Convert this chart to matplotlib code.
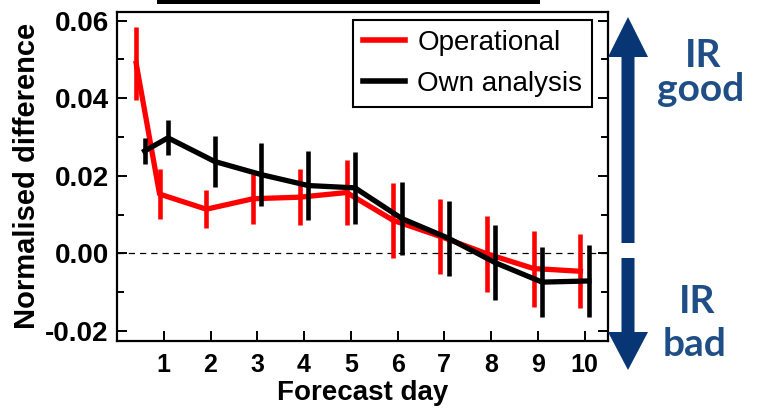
"""
Normalised forecast-error difference vs forecast day, with IR good/bad arrows.
"""

import matplotlib
matplotlib.use("Agg")
import matplotlib.pyplot as plt
from matplotlib.lines import Line2D
from matplotlib.patches import FancyArrow, Rectangle
from matplotlib.ticker import MultipleLocator

plt.rcParams.update({
    'font.family': ['Liberation Sans', 'DejaVu Sans'],
    'axes.linewidth': 1.6,
    'xtick.direction': 'in',
    'ytick.direction': 'in',
})

# Data
forecast_day = [0.5, 1, 2, 3, 4, 5, 6, 7, 8, 9, 10]
operational = [0.0490, 0.0153, 0.0114, 0.0141, 0.0145, 0.0157,
               0.0085, 0.0044, -0.0001, -0.0039, -0.0046]
operational_err = [0.0095, 0.0064, 0.0049, 0.0064, 0.0073, 0.0083,
                   0.0096, 0.0097, 0.0098, 0.0098, 0.0095]
own_analysis = [0.0264, 0.0298, 0.0237, 0.0203, 0.0175, 0.0169,
                0.0090, 0.0039, -0.0024, -0.0074, -0.0071]
own_analysis_err = [0.0033, 0.0045, 0.0067, 0.0082, 0.0090, 0.0092,
                    0.0095, 0.0096, 0.0097, 0.0091, 0.0092]
xtick_days = [1, 2, 3, 4, 5, 6, 7, 8, 9, 10]
series_labels = ['Operational', 'Own analysis']
series_colors = ['#ff0000', 'black']

W, H = 760, 412
fig = plt.figure(figsize=(W / 100, H / 100), dpi=100)
ax = fig.add_axes([117 / W, 1 - 341 / H, (608 - 117) / W, (341 - 11.7) / H])

shift = 0.09
ax.axhline(0, color='black', linestyle=(0, (5, 4)), linewidth=0.9, zorder=1)
ax.errorbar([d - shift for d in forecast_day], operational, yerr=operational_err,
            color=series_colors[0], linewidth=3.8, elinewidth=3.3, capsize=0, zorder=2)
ax.errorbar([d + shift for d in forecast_day], own_analysis, yerr=own_analysis_err,
            color=series_colors[1], linewidth=3.8, elinewidth=3.3, capsize=0, zorder=3)

ax.set_xlim(0, 10.5)
ax.set_ylim(-0.02258, 0.06232)
ax.set_xticks(xtick_days)
ax.yaxis.set_major_locator(MultipleLocator(0.02))
ax.yaxis.set_minor_locator(MultipleLocator(0.01))
ax.yaxis.set_major_formatter(plt.FuncFormatter(lambda v, p: f'{v:.2f}'))
ax.tick_params(axis='y', which='both', left=True, right=True, width=1.4)
ax.tick_params(axis='y', which='major', length=7, pad=6, labelsize=20)
ax.tick_params(axis='y', which='minor', length=5)
ax.tick_params(axis='x', which='major', length=7, width=1.4, pad=9, labelsize=18)
for lbl in ax.get_xticklabels() + ax.get_yticklabels():
    lbl.set_fontweight('bold')

ax.set_xlabel('Forecast day', fontsize=20, fontweight='bold', labelpad=2)
ax.set_ylabel('Normalised difference', fontsize=21, fontweight='bold', labelpad=3)

# plain line handles, as in the original legend
handles = [Line2D([], [], color=c, linewidth=4) for c in series_colors]
leg = ax.legend(handles, series_labels, loc='upper right',
                bbox_to_anchor=(0.9674, 0.975), borderaxespad=0,
                fontsize=20, fancybox=False, framealpha=1, edgecolor='black',
                handlelength=1.5, handletextpad=0.45, labelspacing=0.55,
                borderpad=0.35)
leg.get_frame().set_linewidth(1.5)

# overlay in pixel units for the annotations
ov = fig.add_axes([0, 0, 1, 1], zorder=5)
ov.set_xlim(0, W)
ov.set_ylim(H, 0)
ov.axis('off')

ov.add_patch(Rectangle((157, -2), 383, 6, color='black', linewidth=0))

arrow_col = '#083573'
ov.add_patch(FancyArrow(628, 243, 0, -226, width=13, head_width=40, head_length=40,
                        length_includes_head=True, color=arrow_col, linewidth=0))
ov.add_patch(FancyArrow(628, 258, 0, 112, width=13, head_width=40, head_length=38,
                        length_includes_head=True, color=arrow_col, linewidth=0))

text_col = '#1f4e86'
tkw = dict(family=['Lato', 'DejaVu Sans'], fontweight='bold', fontsize=28,
           color=text_col, ha='center', va='baseline')
ov.text(703, 67, 'IR', **tkw)
ov.text(701, 101, 'good', **tkw)
ov.text(697, 313, 'IR', **tkw)
ov.text(695, 356, 'bad', **tkw)

fig.savefig('out.png', dpi=100)
